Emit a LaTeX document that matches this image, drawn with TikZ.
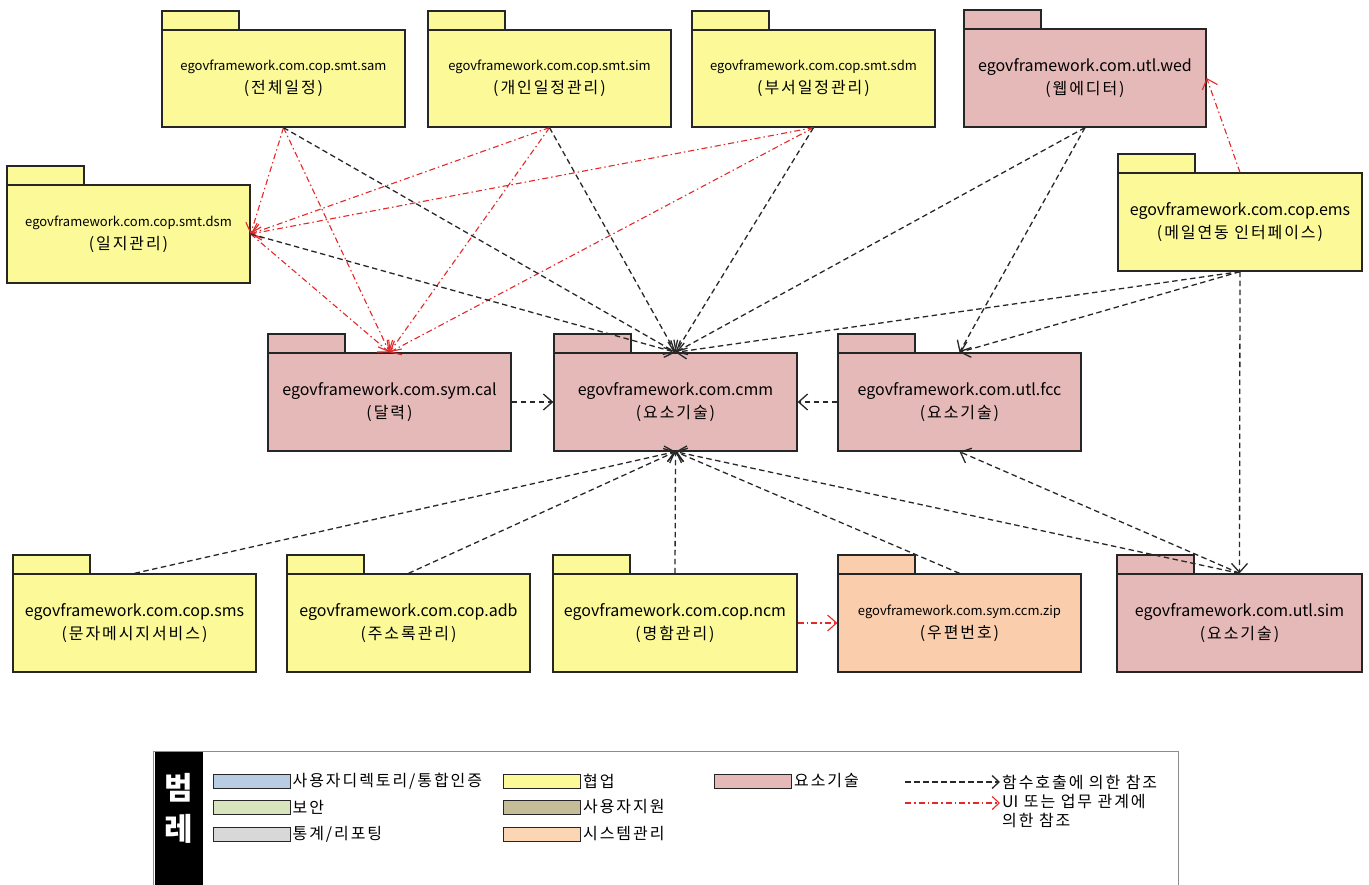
\documentclass[tikz,border=0pt]{standalone}
\usepackage{fontspec}
\setmainfont{Noto Sans CJK KR}
\newfontfamily\korwide{Noto Sans CJK KR}[LetterSpace=12]
\usetikzlibrary{arrows.meta}
\definecolor{pkY}{RGB}{252,250,152}
\definecolor{pkP}{RGB}{229,185,184}
\definecolor{pkO}{RGB}{250,206,172}
\definecolor{lgB}{RGB}{184,204,228}
\definecolor{lgG}{RGB}{215,228,189}
\definecolor{lgGr}{RGB}{216,216,216}
\definecolor{lgBr}{RGB}{196,189,151}
\definecolor{lgO}{RGB}{252,213,181}
\definecolor{redln}{RGB}{228,40,40}
\definecolor{lineblk}{RGB}{40,40,40}
\newcommand\pkgbox[7]{%
  \draw[pkgline,fill=#6] (#2,#3) rectangle (#2+77,#3-19);
  \node[pkgbody,fill=#6,minimum width={(#4-#2)*1pt},minimum height={(#5-#3)*1pt}] (#1) at ({(#2+#4)/2},{(#3+#5)/2}) {#7};
}
\newcommand\smallname[1]{{\fontsize{13}{16}\selectfont #1}}
\newcommand\kor[1]{{\korwide #1}}
\begin{document}
\begin{tikzpicture}[x=1pt,y=-1pt,
  pkgline/.style={draw=black!85, line width=1.3pt},
  pkgbody/.style={pkgline, inner sep=0pt, align=center, font=\fontsize{16}{23}\selectfont},
  callref/.style={draw=lineblk, line width=1.3pt, dash pattern=on 5.5pt off 3.5pt, -{Straight Barb[length=9pt,width=16pt]}},
  uiref/.style={draw=redln, line width=1.1pt, dash pattern=on 6pt off 3pt on 1.5pt off 3pt, -{Straight Barb[length=9pt,width=16pt]}},
  swatch/.style={draw=black!85, line width=1pt, minimum width=77pt, minimum height=14pt, inner sep=0pt},
  lgtext/.style={anchor=west, inner sep=2pt, font=\korwide\fontsize{16}{19}\selectfont},
  lgtitle/.style={font=\bfseries\fontsize{31}{32}\selectfont, text=white, inner sep=0pt},
]
\useasboundingbox (0,0) rectangle (1369,885);
% packages
\pkgbox{sam}{162}{30}{405}{127}{pkY}{\smallname{egovframework.com.cop.smt.sam}\\\kor{(전체일정)}}
\pkgbox{sim}{428}{30}{671}{127}{pkY}{\smallname{egovframework.com.cop.smt.sim}\\\kor{(개인일정관리)}}
\pkgbox{sdm}{692}{30}{935}{127}{pkY}{\smallname{egovframework.com.cop.smt.sdm}\\\kor{(부서일정관리)}}
\pkgbox{wed}{964}{29}{1206}{127}{pkP}{egovframework.com.utl.wed\\\kor{(웹에디터)}}
\pkgbox{dsm}{7}{185}{250}{283}{pkY}{\smallname{egovframework.com.cop.smt.dsm}\\\kor{(일지관리)}}
\pkgbox{ems}{1118}{173}{1362}{271}{pkY}{egovframework.com.cop.ems\\\kor{(메일연동 인터페이스)}}
\pkgbox{cal}{268}{353}{511}{451}{pkP}{egovframework.com.sym.cal\\\kor{(달력)}}
\pkgbox{cmm}{554}{353}{797}{451}{pkP}{egovframework.com.cmm\\\kor{(요소기술)}}
\pkgbox{fcc}{838}{353}{1081}{451}{pkP}{egovframework.com.utl.fcc\\\kor{(요소기술)}}
\pkgbox{sms}{13}{574}{256}{672}{pkY}{egovframework.com.cop.sms\\\kor{(문자메시지서비스)}}
\pkgbox{adb}{287}{574}{530}{672}{pkY}{egovframework.com.cop.adb\\\kor{(주소록관리)}}
\pkgbox{ncm}{553}{574}{797}{672}{pkY}{egovframework.com.cop.ncm\\\kor{(명함관리)}}
\pkgbox{zip}{838}{574}{1081}{672}{pkO}{\smallname{egovframework.com.sym.ccm.zip}\\\kor{(우편번호)}}
\pkgbox{usim}{1117}{574}{1362}{672}{pkP}{egovframework.com.utl.sim\\\kor{(요소기술)}}
% UI / business references
\draw[uiref] (sam.south) -- (dsm.east);
\draw[uiref] (sim.south) -- (dsm.east);
\draw[uiref] (sdm.south) -- (dsm.east);
\draw[uiref] (sam.south) -- (cal.north);
\draw[uiref] (sim.south) -- (cal.north);
\draw[uiref] (sdm.south) -- (cal.north);
\draw[uiref] (dsm.east) -- (cal.north);
\draw[uiref] (ems.north) -- (wed.east);
\draw[uiref] (ncm.east) -- (zip.west);
% function call references
\draw[callref] (sam.south) -- (cmm.north);
\draw[callref] (sim.south) -- (cmm.north);
\draw[callref] (sdm.south) -- (cmm.north);
\draw[callref] (dsm.east) -- (cmm.north);
\draw[callref] (wed.south) -- (cmm.north);
\draw[callref] (ems.south) -- (cmm.north);
\draw[callref] (wed.south) -- (fcc.north);
\draw[callref] (ems.south) -- (fcc.north);
\draw[callref] (ems.south) -- (usim.north);
\draw[callref] (cal.east) -- (cmm.west);
\draw[callref] (fcc.west) -- (cmm.east);
\draw[callref] (sms.north) -- (cmm.south);
\draw[callref] (adb.north) -- (cmm.south);
\draw[callref] (ncm.north) -- (cmm.south);
\draw[callref] (zip.north) -- (cmm.south);
\draw[callref] (usim.north) -- (cmm.south);
\draw[callref] (usim.north) -- (fcc.south);
% legend
\draw[black!45, line width=1pt] (153,885) -- (153,751) -- (1178,751) -- (1178,885);
\fill[black] (155,752) rectangle (203,885);
\node[lgtitle] (lgA) at (179,788) {범};
\node[lgtitle] (lgB) at (179,829) {레};
\node[swatch, fill=lgB] (s1) at (251.5,781) {};
\node[lgtext] (t1) at (s1.east) {사용자디렉토리/통합인증};
\node[swatch, fill=lgG] (s2) at (251.5,807) {};
\node[lgtext] (t2) at (s2.east) {보안};
\node[swatch, fill=lgGr] (s3) at (251.5,834) {};
\node[lgtext] (t3) at (s3.east) {통계/리포팅};
\node[swatch, fill=pkY] (s4) at (542,781) {};
\node[lgtext] (t4) at (s4.east) {협업};
\node[swatch, fill=lgBr] (s5) at (542,807) {};
\node[lgtext] (t5) at (s5.east) {사용자지원};
\node[swatch, fill=lgO] (s6) at (542,834) {};
\node[lgtext] (t6) at (s6.east) {시스템관리};
\node[swatch, fill=pkP] (s7) at (753,781) {};
\node[lgtext] (t7) at (s7.east) {요소기술};
\coordinate (la1) at (905,782);
\coordinate (la2) at (1000,782);
\draw[callref, -{Straight Barb[length=7pt,width=13pt]}] (la1) -- (la2);
\node[lgtext] (t8) at (la2) {함수호출에 의한 참조};
\coordinate (lb1) at (905,803);
\coordinate (lb2) at (1000,803);
\draw[uiref, -{Straight Barb[length=7pt,width=13pt]}] (lb1) -- (lb2);
\node[lgtext, anchor=north west, align=left] (t9) at (1000,792) {{\rmfamily UI} 또는 업무 관계에\\의한 참조};
\end{tikzpicture}
\end{document}
